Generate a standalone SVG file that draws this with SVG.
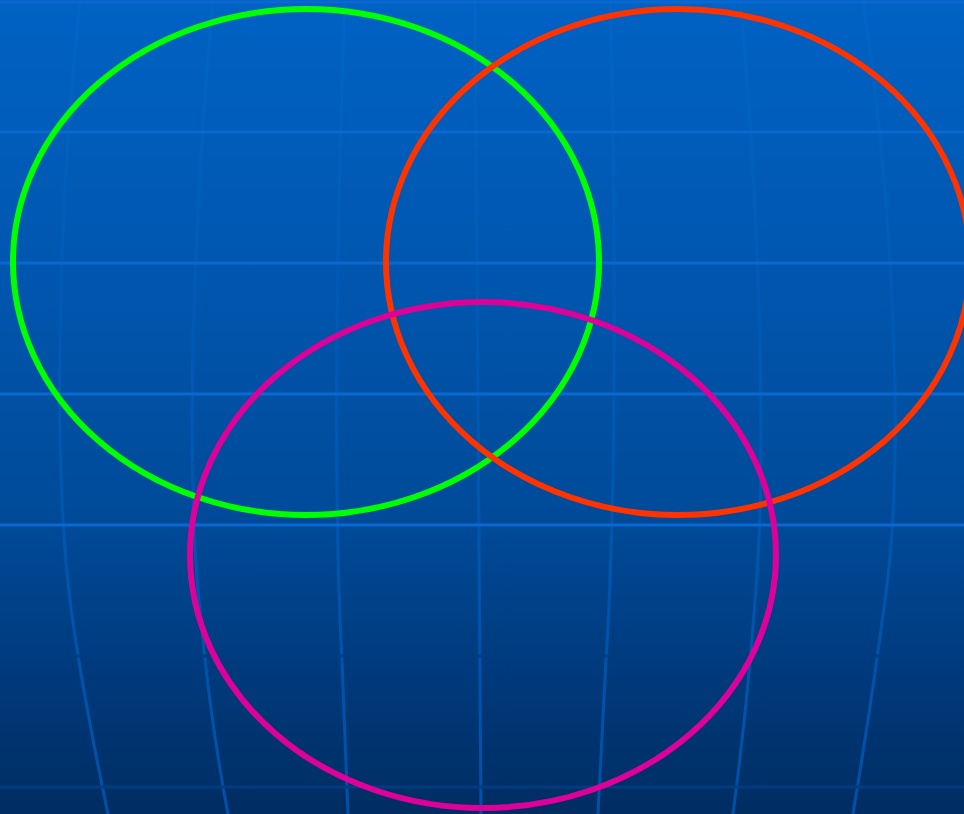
<svg xmlns="http://www.w3.org/2000/svg" width="964" height="814" viewBox="0 0 964 814">
  <defs>
    <linearGradient id="bg" x1="0" y1="0" x2="0" y2="1">
      <stop offset="0" stop-color="#0062c4"/>
      <stop offset="0.32" stop-color="#0057b0"/>
      <stop offset="0.645" stop-color="#004a98"/>
      <stop offset="0.8" stop-color="#003c80"/>
      <stop offset="1" stop-color="#002d62"/>
    </linearGradient>
    <linearGradient id="vline" gradientUnits="userSpaceOnUse" x1="0" y1="0" x2="0" y2="814">
      <stop offset="0" stop-color="#0066c8"/>
      <stop offset="0.35" stop-color="#005bb6"/>
      <stop offset="1" stop-color="#0050a8"/>
    </linearGradient>
  </defs>
  <style>
    .v { fill: none; stroke: url(#vline); stroke-width: 3; }
    .h { stroke: #0a68d0; stroke-width: 3; }
    .hd { stroke: #003d80; stroke-width: 3; }
    .ring { fill: none; stroke-width: 6; }
  </style>
  <rect x="0" y="0" width="964" height="814" fill="url(#bg)"/>
  <g id="grid-vertical">
    <path class="v" d="M80,0 C56,230 54,470 70,600 Q80,680 108,814"/>
    <path class="v" d="M213,0 C188,280 188,500 200,610 Q210,720 228,814"/>
    <path class="v" d="M345,0 C335,260 334,520 342,660 L348,814"/>
    <path class="v" d="M475,0 C478,300 479,560 481,814"/>
    <path class="v" d="M610,0 C618,280 614,540 606,660 L598,814"/>
    <path class="v" d="M740,0 C762,230 766,480 755,600 Q748,700 733,814"/>
    <path class="v" d="M863,0 C896,220 904,470 885,600 Q872,700 853,814"/>
  </g>
  <g id="grid-horizontal">
    <line class="h" x1="0" y1="2" x2="964" y2="2"/>
    <line class="h" x1="0" y1="132" x2="964" y2="132"/>
    <line class="h" x1="0" y1="263" x2="964" y2="263"/>
    <line class="h" x1="0" y1="394" x2="964" y2="394"/>
    <line class="h" x1="0" y1="525" x2="964" y2="525"/>
    <line class="hd" x1="0" y1="656" x2="964" y2="656"/>
    <line class="hd" x1="0" y1="787" x2="964" y2="787"/>
  </g>
  <g id="green-circle">
    <ellipse class="ring" cx="306" cy="262" rx="293" ry="253" stroke="#00ff00"/>
  </g>
  <g id="red-circle">
    <ellipse class="ring" cx="678" cy="262" rx="292" ry="253" stroke="#ff3300"/>
  </g>
  <g id="magenta-circle">
    <ellipse class="ring" cx="483" cy="555" rx="293" ry="253" stroke="#dd0099"/>
  </g>
</svg>
